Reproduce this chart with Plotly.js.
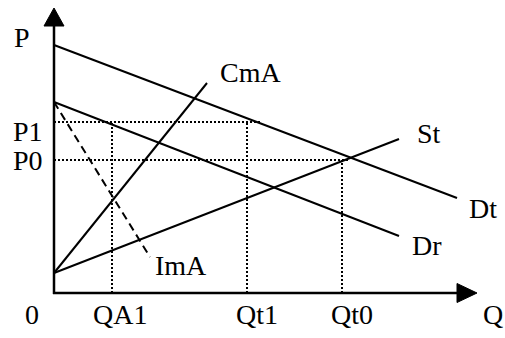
<!DOCTYPE html>
<html>
<head>
<meta charset="utf-8">
<script src="https://cdn.plot.ly/plotly-3.0.1.min.js"></script>
<style>
  html, body { margin: 0; padding: 0; background: #fff; }
  #chart { width: 505px; height: 338px; }
</style>
</head>
<body>
<div id="chart"></div>
<script>
// Curves: quantity (Q) and price (P) of the two end points
const dtQ = [0, 403], dtP = [248, 95];   // Dt
const drQ = [0, 345], drP = [191, 57];   // Dr
const stQ = [0, 345], stP = [20, 154];   // St
const cmQ = [0, 153], cmP = [20, 210];   // CmA
const imQ = [0, 96],  imP = [191, 36];   // ImA (dashed)

// Guide levels
const priceLevels = [171, 133];          // P1, P0
const priceEnds = [208, 296];            // where the horizontal guides stop
const qtyLevels = [58, 193, 288];        // QA1, Qt1, Qt0
const qtyTops = [171, 171, 133];

// Axis extents
const qMax = 403, pMax = 267;

// Labels
const axisLabels = ['P', 'P1', 'P0', '0', 'QA1', 'Qt1', 'Qt0', 'Q'];
const axisLabelX = [-32, -26, -26, -22, 66, 203, 298, 439];
const axisLabelY = [256, 162, 133, -21, -21, -21, -21, -21];
const curveLabels = ['CmA', 'St', 'Dt', 'Dr', 'ImA'];
const curveLabelX = [196, 375, 429, 373, 127];
const curveLabelY = [221, 160, 85, 48, 28];

const solid = { color: '#000', width: 2 };
const traces = [];
function seg(x, y, line) {
  traces.push({ x: x, y: y, type: 'scatter', mode: 'lines', line: line, hoverinfo: 'skip' });
}

// axes
seg([0, 0], [-1, pMax], { color: '#000', width: 2.5 });
seg([-1, qMax], [0, 0], { color: '#000', width: 2.5 });
// arrow heads
traces.push({ x: [-10, 10, 0, -10], y: [pMax, pMax, pMax + 18, pMax], type: 'scatter', mode: 'lines',
  fill: 'toself', fillcolor: '#000', line: { color: '#000', width: 1 }, hoverinfo: 'skip' });
traces.push({ x: [qMax, qMax, qMax + 20, qMax], y: [-9.5, 9.5, 0, -9.5], type: 'scatter', mode: 'lines',
  fill: 'toself', fillcolor: '#000', line: { color: '#000', width: 1 }, hoverinfo: 'skip' });

// dotted guides
const dotted = { color: '#000', width: 2, dash: '2px,2px' };
priceLevels.forEach((p, i) => seg([0, priceEnds[i]], [p, p], dotted));
qtyLevels.forEach((q, i) => seg([q, q], [0, qtyTops[i]], dotted));

// curves
seg(dtQ, dtP, solid);
seg(drQ, drP, solid);
seg(stQ, stP, solid);
seg(cmQ, cmP, solid);
seg(imQ, imP, { color: '#000', width: 2, dash: '8px,5px' });

const font = { family: 'Liberation Serif, Times New Roman, serif', size: 28, color: '#000' };
const annotations = [];
axisLabels.forEach((t, i) => annotations.push({ x: axisLabelX[i], y: axisLabelY[i], text: t,
  showarrow: false, xanchor: 'center', yanchor: 'middle', font: font }));
curveLabels.forEach((t, i) => annotations.push({ x: curveLabelX[i], y: curveLabelY[i], text: t,
  showarrow: false, xanchor: 'center', yanchor: 'middle', font: font }));

Plotly.newPlot('chart', traces, {
  width: 505,
  height: 338,
  margin: { t: 0, r: 0, b: 0, l: 0 },
  paper_bgcolor: '#fff',
  plot_bgcolor: '#fff',
  showlegend: false,
  xaxis: { range: [-54, 451], visible: false, fixedrange: true },
  yaxis: { range: [-45, 293], visible: false, fixedrange: true },
  annotations: annotations
}, { staticPlot: true });
</script>
</body>
</html>
